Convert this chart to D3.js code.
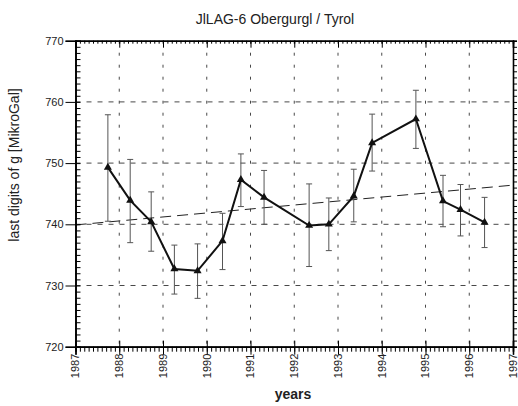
<!DOCTYPE html>
<html><head><meta charset="utf-8">
<script src="https://cdn.jsdelivr.net/npm/d3@7"></script>
<style>body{margin:0;background:#fff}svg{display:block}text{font-family:"Liberation Sans",Arial,sans-serif}</style>
</head><body><svg id="c" width="518" height="406"></svg>
<script>
const years  = [1987.74,1988.25,1988.73,1989.26,1989.79,1990.36,1990.78,1991.31,1992.34,1992.79,1993.36,1993.78,1994.78,1995.40,1995.80,1996.35];
const values = [749.3,743.9,740.4,732.7,732.4,737.3,747.3,744.4,739.8,740.0,744.6,753.3,757.2,743.8,742.4,740.3];
const errHi  = [757.9,750.6,745.3,736.6,736.8,741.8,751.5,748.8,746.6,744.3,749.0,758.0,761.9,748.0,746.5,744.4];
const errLo  = [740.5,737.0,735.6,728.6,727.9,732.6,742.9,740.0,733.1,735.7,740.4,748.7,752.4,739.6,738.1,736.2];
const trendYears = [1987,1997];
const trendValues = [739.9,746.4];
const xTicks = [1987,1988,1989,1990,1991,1992,1993,1994,1995,1996,1997];
const yTicks = [720,730,740,750,760,770];
const title = "JlLAG-6 Obergurgl / Tyrol";
const xLabel = "years", yLabel = "last digits of g [MikroGal]";

const svg = d3.select("#c");
const L=75.5, R=513, T=40.7, B=346.7;
const x = d3.scaleLinear().domain([1987,1997]).range([L,R]);
const y = d3.scaleLinear().domain([720,770]).range([B,T]);
const col="#222";
const noLabel = () => "";

// grid
const grid = svg.append("g").attr("class","grid");
grid.selectAll("line.h").data(yTicks.filter(v=>v>720&&v<770)).join("line").attr("class","h")
  .attr("x1",L).attr("x2",R).attr("y1",d=>y(d)).attr("y2",d=>y(d))
  .attr("stroke","#333").attr("stroke-width",0.9).attr("stroke-dasharray","5,6");
grid.selectAll("line.v").data(xTicks.filter(v=>v>1987&&v<1997)).join("line").attr("class","v")
  .attr("x1",d=>x(d)).attr("x2",d=>x(d)).attr("y1",T).attr("y2",B)
  .attr("stroke","#333").attr("stroke-width",0.9).attr("stroke-dasharray","3,9");

// trend
svg.append("line").attr("x1",x(trendYears[0])).attr("y1",y(trendValues[0]))
  .attr("x2",x(trendYears[1])).attr("y2",y(trendValues[1]))
  .attr("stroke","#222").attr("stroke-width",1).attr("stroke-dasharray","11,6");

// error bars
const eb = svg.append("g").attr("class","err").attr("stroke","#555").attr("stroke-width",1);
eb.selectAll("line.ev").data(years).join("line").attr("class","ev")
  .attr("x1",d=>x(d)).attr("x2",d=>x(d)).attr("y1",(d,i)=>y(errHi[i])).attr("y2",(d,i)=>y(errLo[i]));
eb.selectAll("line.et").data(years).join("line").attr("class","et")
  .attr("x1",d=>x(d)-3).attr("x2",d=>x(d)+3).attr("y1",(d,i)=>y(errHi[i])).attr("y2",(d,i)=>y(errHi[i]));
eb.selectAll("line.eb").data(years).join("line").attr("class","eb")
  .attr("x1",d=>x(d)-3).attr("x2",d=>x(d)+3).attr("y1",(d,i)=>y(errLo[i])).attr("y2",(d,i)=>y(errLo[i]));

// line + markers
svg.append("path").datum(years.map((d,i)=>[d,values[i]]))
  .attr("fill","none").attr("stroke","#111").attr("stroke-width",2)
  .attr("d",d3.line().x(d=>x(d[0])).y(d=>y(d[1])));
svg.append("g").attr("class","marks").selectAll("path").data(years).join("path")
  .attr("d",d3.symbol(d3.symbolTriangle,28))
  .attr("transform",(d,i)=>`translate(${x(d)},${y(values[i])})`).attr("fill","#111");

// axes (drawn on top)
const minorX = d3.range(0,101).map(i=>1987+i/10);
const minorY = d3.range(720,771);
const axes = svg.append("g").attr("class","axes").style("color","#000");
function addAxis(axis, tx, ty){
  return axes.append("g").attr("transform",`translate(${tx},${ty})`).call(axis);
}
addAxis(d3.axisBottom(x).tickValues(minorX).tickSize(5).tickFormat(noLabel), 0, B);
addAxis(d3.axisBottom(x).tickValues(xTicks).tickSize(-6).tickFormat(noLabel), 0, B);
addAxis(d3.axisTop(x).tickValues(minorX).tickSize(-3).tickFormat(noLabel), 0, T);
addAxis(d3.axisTop(x).tickValues(xTicks).tickSize(-7).tickFormat(noLabel), 0, T);
addAxis(d3.axisLeft(y).tickValues(minorY).tickSize(-5).tickFormat(noLabel), L, 0);
addAxis(d3.axisRight(y).tickValues(minorY).tickSize(4).tickFormat(noLabel), R, 0);
const gB = addAxis(d3.axisBottom(x).tickValues(xTicks).tickFormat(d3.format("d")).tickSize(8).tickPadding(4), 0, B);
gB.selectAll("text").attr("transform","rotate(-90)").attr("text-anchor","end")
  .attr("x",-7).attr("y",-0.5).attr("dy","0.35em").style("font-size","11px").attr("fill",col);
const gL = addAxis(d3.axisLeft(y).tickValues(yTicks).tickSize(10).tickPadding(2), L, 0);
gL.selectAll("text").style("font-size","11px").attr("fill",col);
axes.selectAll(".domain").attr("stroke-width",1.6);

// labels
svg.append("text").attr("x",275).attr("y",24).attr("text-anchor","middle")
  .style("font-size","14px").attr("fill",col).text(title);
svg.append("text").attr("x",293).attr("y",399).attr("text-anchor","middle")
  .style("font-size","14px").style("font-weight","bold").attr("fill",col).text(xLabel);
svg.append("text").attr("transform","translate(19,165) rotate(-90)").attr("text-anchor","middle")
  .style("font-size","14px").attr("fill",col).text(yLabel);
</script></body></html>
